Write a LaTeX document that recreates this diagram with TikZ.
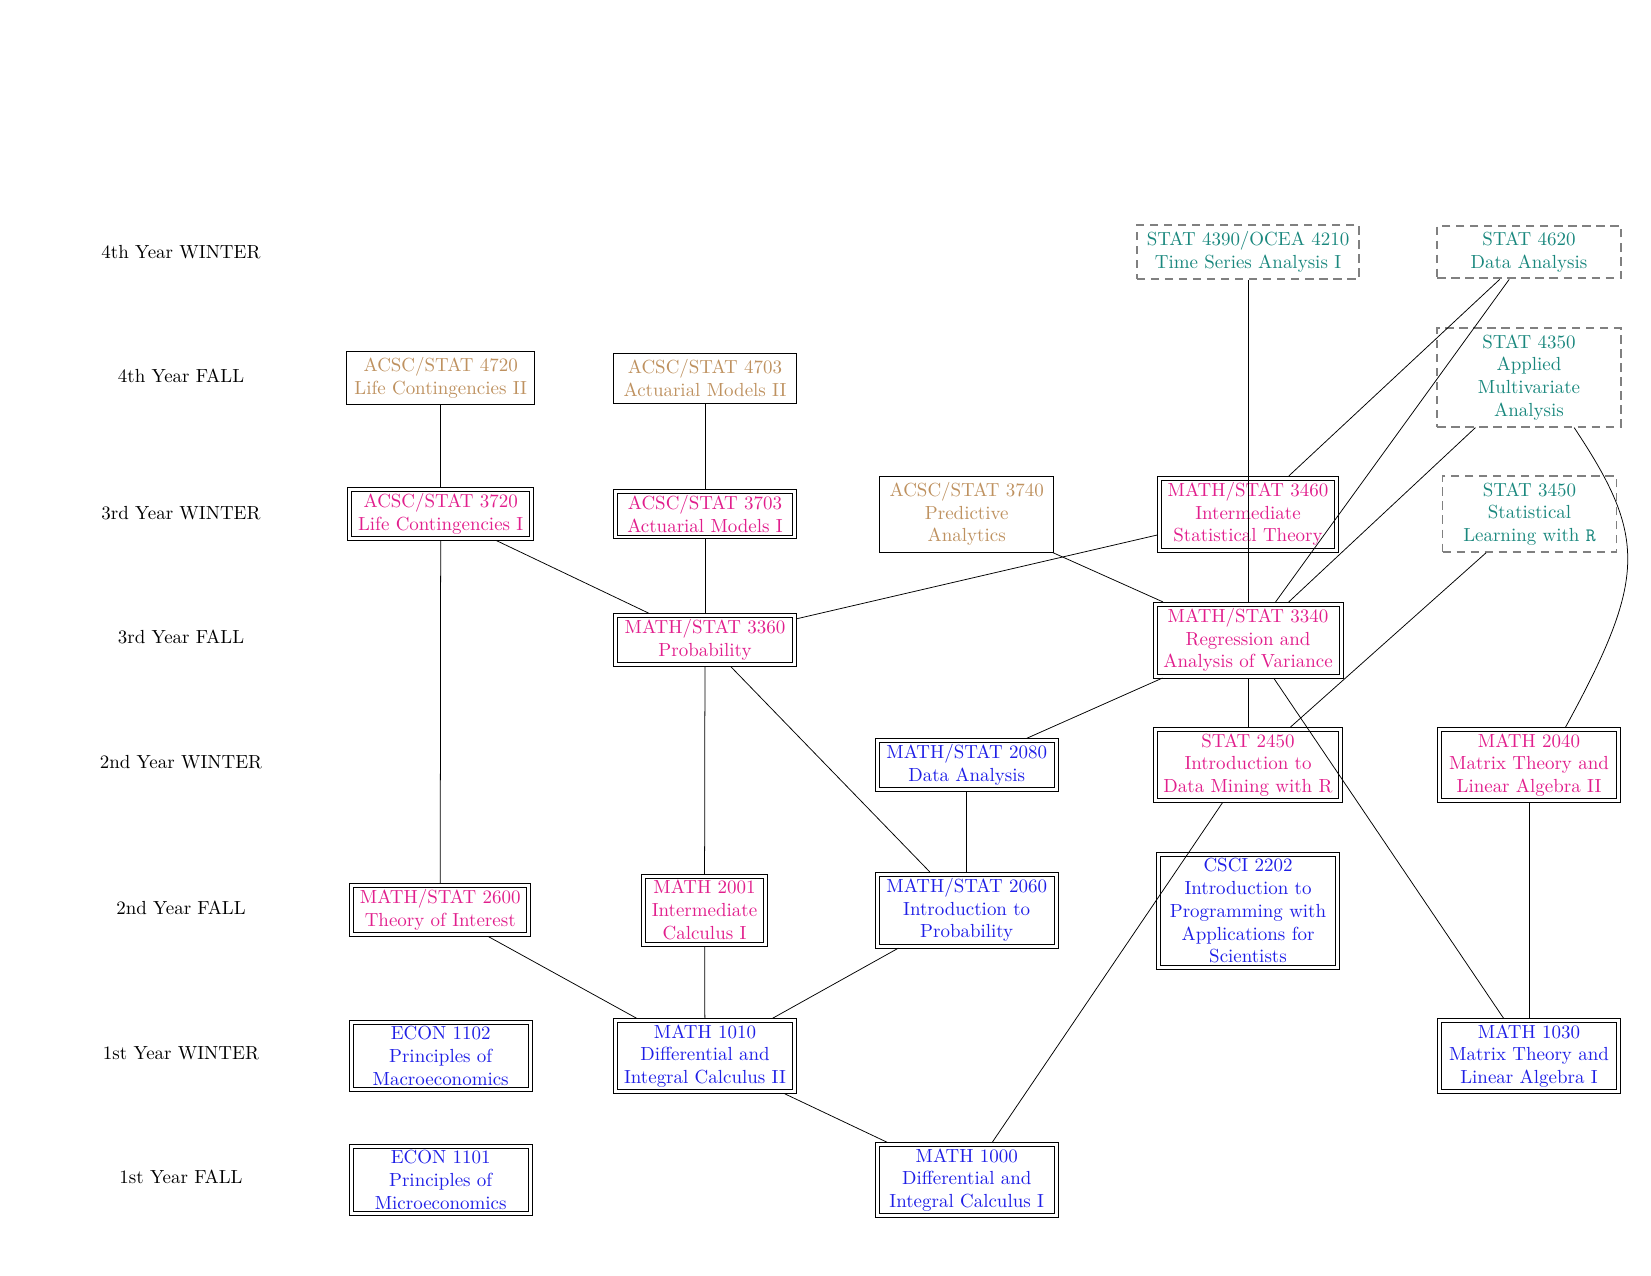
\documentclass[tikz,border=0pt]{standalone}
\definecolor{ctan}{RGB}{190,145,95}
\definecolor{cpink}{RGB}{225,30,140}
\definecolor{cblue}{RGB}{30,30,230}
\definecolor{cteal}{RGB}{25,135,125}
\definecolor{cgray}{RGB}{128,128,128}
\begin{document}
\begin{tikzpicture}[x=0.5275pt,y=-0.5275pt,
  base/.style={align=center, inner sep=3.33pt},
  sgl/.style={base, draw, line width=0.4pt, minimum width=#1},
  dbl/.style={base, inner ysep=1.2pt, draw, line width=0.4pt, minimum width=#1, outer sep=2.1pt,
    append after command={\pgfextra{\draw[line width=0.4pt]
      (\tikzlastnode.north west) rectangle (\tikzlastnode.south east);}}},
  dbl/.default=92.6pt,
  dsh/.style={base, draw=cgray, line width=1pt, dash pattern=on 4.4pt off 3pt, minimum width=#1, text=cteal},
  yr/.style={align=center},
  link/.style={draw, line width=0.4pt}]
\useasboundingbox (0,0) rectangle (1651,1275);

% year labels
\node[yr] (y4w) at (181,252) {4th Year WINTER};
\node[yr] (y4f) at (181,376) {4th Year FALL};
\node[yr] (y3w) at (181,513) {3rd Year WINTER};
\node[yr] (y3f) at (181,637) {3rd Year FALL};
\node[yr] (y2w) at (181,762) {2nd Year WINTER};
\node[yr] (y2f) at (181,908) {2nd Year FALL};
\node[yr] (y1w) at (181,1053) {1st Year WINTER};
\node[yr] (y1f) at (181,1177) {1st Year FALL};

% courses
\node[dsh=117.3pt] (n4390) at (1248,252) {STAT 4390/OCEA 4210\\Time Series Analysis I};
\node[dsh=96.8pt] (n4620) at (1529,252) {STAT 4620\\Data Analysis};
\node[dsh=96.8pt] (n4350) at (1529,377.5) {STAT 4350\\Applied\\Multivariate\\Analysis};
\node[sgl=99pt, text=ctan] (n4720) at (440.7,378) {ACSC/STAT 4720\\Life Contingencies II};
\node[sgl=96.8pt, text=ctan] (n4703) at (705,378) {ACSC/STAT 4703\\Actuarial Models II};
\node[dbl, text=cpink] (n3720) at (440.7,514) {ACSC/STAT 3720\\Life Contingencies I};
\node[dbl, text=cpink] (n3703) at (705,514) {ACSC/STAT 3703\\Actuarial Models I};
\node[sgl=91.8pt, text=ctan] (n3740) at (966.7,514) {ACSC/STAT 3740\\Predictive\\Analytics};
\node[dbl=88.2pt, text=cpink] (n3460) at (1248,514) {MATH/STAT 3460\\Intermediate\\Statistical Theory};
\node[dsh=91.8pt] (n3450) at (1529.5,514) {STAT 3450\\Statistical\\Learning with \texttt{R}};
\node[dbl, text=cpink] (n3360) at (705,640) {MATH/STAT 3360\\Probability};
\node[dbl, text=cpink] (n3340) at (1248,640) {MATH/STAT 3340\\Regression and\\Analysis of Variance};
\node[dbl=92pt, text=cblue] (n2080) at (966.7,765) {MATH/STAT 2080\\Data Analysis};
\node[dbl, text=cpink] (n2450) at (1248,765) {STAT 2450\\Introduction to\\Data Mining with R};
\node[dbl, text=cpink] (n2040) at (1529,765) {MATH 2040\\Matrix Theory and\\Linear Algebra II};
\node[dbl=87.6pt, text=cpink] (n2600) at (440.2,910) {MATH/STAT 2600\\Theory of Interest};
\node[dbl=62.1pt, text=cpink] (n2001) at (704.5,910) {MATH 2001\\Intermediate\\Calculus I};
\node[dbl=92pt, text=cblue] (n2060) at (966.7,910) {MATH/STAT 2060\\Introduction to\\Probability};
\node[dbl, text=cblue] (n2202) at (1248,910.8) {CSCI 2202\\Introduction to\\Programming with\\Applications for\\Scientists};
\node[dbl, text=cblue] (n1102) at (440.7,1056) {ECON 1102\\Principles of\\Macroeconomics};
\node[dbl, text=cblue] (n1010) at (705,1056) {MATH 1010\\Differential and\\Integral Calculus II};
\node[dbl, text=cblue] (n1030) at (1529,1056) {MATH 1030\\Matrix Theory and\\Linear Algebra I};
\node[dbl, text=cblue] (n1101) at (440.7,1180) {ECON 1101\\Principles of\\Microeconomics};
\node[dbl=92pt, text=cblue] (n1000) at (966.7,1180) {MATH 1000\\Differential and\\Integral Calculus I};

% prerequisites
\draw[link] (n4720) -- (n3720);
\draw[link] (n4703) -- (n3703);
\draw[link] (n3720) -- (n3360);
\draw[link] (n3703) -- (n3360);
\draw[link] (n3720) -- (n2600);
\draw[link] (n3360) -- (n2001);
\draw[link] (n3360) -- (n2060);
\draw[link] (n3360) -- (n3460);
\draw[link] (n3740) -- (n3340);
\draw[link] (n4390) -- (n3340);
\draw[link] (n4620) -- (n3460);
\draw[link] (n4620) -- (n3340);
\draw[link] (n4350) -- (n3340);
\draw[link] (n4350.-48) .. controls (1647,537) and (1647,578) .. (n2040.46);
\draw[link] (n3450) -- (n2450);
\draw[link] (n3340) -- (n2080);
\draw[link] (n3340) -- (n2450);
\draw[link] (n3340) -- (n1030);
\draw[link] (n2450) -- (n1000);
\draw[link] (n2080) -- (n2060);
\draw[link] (n2040) -- (n1030);
\draw[link] (n2600) -- (n1010);
\draw[link] (n2001) -- (n1010);
\draw[link] (n2060) -- (n1010);
\draw[link] (n1010) -- (n1000);
\end{tikzpicture}
\end{document}
